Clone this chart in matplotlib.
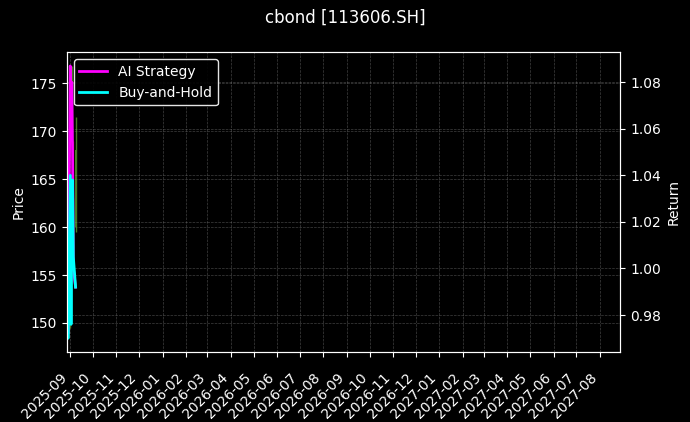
import matplotlib
matplotlib.use('Agg')
import matplotlib.pyplot as plt
import matplotlib.dates as mdates
import pandas as pd

# data (8 trading days at the very start of the axis)
dates = pd.to_datetime(['2025-08-28', '2025-08-29', '2025-09-01', '2025-09-02',
                        '2025-09-03', '2025-09-04', '2025-09-05', '2025-09-08'])
open_ = [150.5, 151.0, 150.0, 160.0, 151.0, 165.0, 160.0, 160.0]
high = [152.0, 152.5, 163.0, 162.0, 176.8, 169.0, 163.0, 171.5]
low = [148.4, 148.8, 149.5, 150.0, 160.5, 157.8, 155.0, 159.5]
close = [151.0, 149.5, 160.0, 151.0, 159.0, 160.0, 158.0, 168.0]

ai_strategy = [1.000, 0.972, 1.087, 1.062, 1.080, 1.050, 1.000, 0.992]
buy_hold = [1.000, 0.970, 1.040, 0.976, 1.035, 1.038, 1.005, 0.992]

x_start = pd.Timestamp('2025-08-27 14:00')
x_end = pd.Timestamp('2027-08-28')

plt.style.use('dark_background')
fig, ax = plt.subplots(figsize=(6.9, 4.22), dpi=100)
fig.subplots_adjust(left=0.097, right=0.899, bottom=0.166, top=0.876)

# candles on the price axis
up = [c >= o for o, c in zip(open_, close)]
cols = ['#5a962c' if u else '#7f2a1a' for u in up]
ax.vlines(dates, low, high, colors=cols, linewidth=1, alpha=0.8)
ax.bar(dates, [abs(c - o) for o, c in zip(open_, close)],
       bottom=[min(o, c) for o, c in zip(open_, close)],
       width=0.6, color=cols, alpha=0.8)
ax.set_ylabel('Price')
ax.grid(True, linestyle='--', linewidth=0.5, color='gray', alpha=0.5)

ax2 = ax.twinx()
ax2.plot(dates, ai_strategy, color='magenta', linewidth=2, label='AI Strategy')
ax2.plot(dates, buy_hold, color='cyan', linewidth=2, label='Buy-and-Hold')
ax2.set_ylabel('Return')
ax2.grid(True, linestyle='--', linewidth=0.5, color='gray', alpha=0.5)
ax2.legend(loc='upper left', facecolor='black', edgecolor='white', framealpha=0.9)

ax.set_xlim(x_start, x_end)
ax.xaxis.set_major_locator(mdates.MonthLocator())
ax.xaxis.set_major_formatter(mdates.DateFormatter('%Y-%m'))
ax.tick_params(axis='x', pad=10)
plt.setp(ax.get_xticklabels(), rotation=45, ha='right')

fig.suptitle('cbond [113606.SH]', fontsize=12)
fig.savefig('out.png', dpi=100, facecolor='black')
